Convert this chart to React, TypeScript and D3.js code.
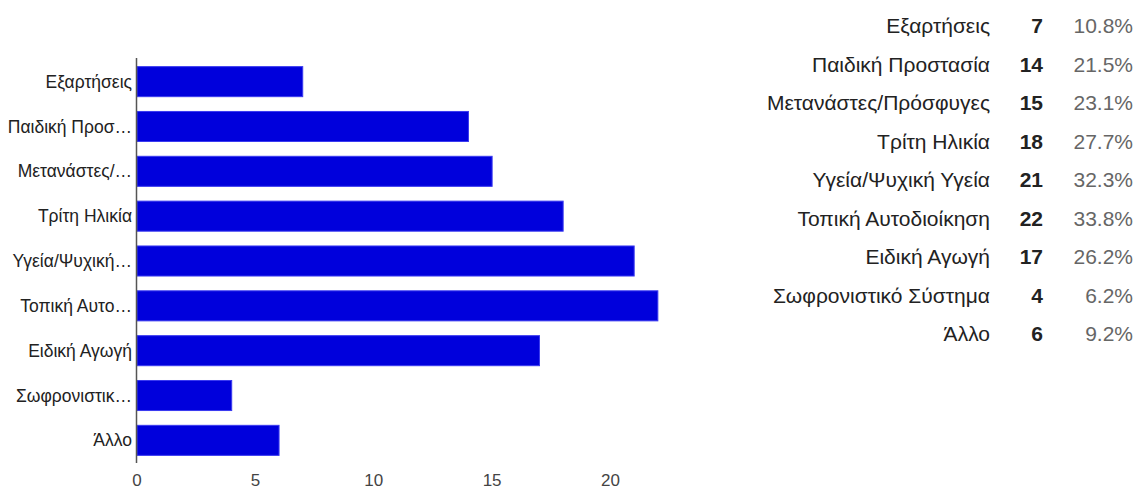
import React from "react";
import * as d3 from "d3";

const categories = ["Εξαρτήσεις", "Παιδική Προστασία", "Μετανάστες/Πρόσφυγες", "Τρίτη Ηλικία", "Υγεία/Ψυχική Υγεία", "Τοπική Αυτοδιοίκηση", "Ειδική Αγωγή", "Σωφρονιστικό Σύστημα", "Άλλο"];
const shortLabels = ["Εξαρτήσεις", "Παιδική Προσ…", "Μετανάστες/…", "Τρίτη Ηλικία", "Υγεία/Ψυχική…", "Τοπική Αυτο…", "Ειδική Αγωγή", "Σωφρονιστικ…", "Άλλο"];
const counts = [7, 14, 15, 18, 21, 22, 17, 4, 6];
const percents = ["10.8%", "21.5%", "23.1%", "27.7%", "32.3%", "33.8%", "26.2%", "6.2%", "9.2%"];
const xTicks = [0, 5, 10, 15, 20];

export default function App() {
  const W = 1135, H = 490;
  const x = d3.scaleLinear().domain([0, 20]).range([137, 610.5]);
  const y = d3.scaleBand<number>().domain(d3.range(categories.length)).range([59, 463]).paddingInner(0.33).paddingOuter(0.17);
  const font = "Arial, 'Liberation Sans', sans-serif";
  const rowY = d3.scaleLinear().domain([0, 8]).range([26, 334]);
  return (
    <svg width={W} height={H} style={{ position: "absolute", left: 0, top: 0, background: "#fff" }} fontFamily={font}>
      {counts.map((v, i) => (
        <rect key={i} x={x(0)} y={y(i)} width={x(v) - x(0)} height={y.bandwidth()} fill="#0000dc" stroke="#3a3af0" strokeWidth={1} />
      ))}
      <line x1={136.5} x2={136.5} y1={58} y2={463} stroke="#555" strokeWidth={1.5} />
      {shortLabels.map((s, i) => (
        <text key={i} x={132} y={y(i)! + y.bandwidth() / 2} dy="0.35em" textAnchor="end" fontSize={17.5} fill="#222">{s}</text>
      ))}
      {xTicks.map((t) => (
        <text key={t} x={x(t)} y={485.5} textAnchor="middle" fontSize={17} fill="#444">{t}</text>
      ))}
      {categories.map((c, i) => (
        <g key={i}>
          <text x={990} y={rowY(i)} dy="0.35em" textAnchor="end" fontSize={21} fill="#222">{c}</text>
          <text x={1043} y={rowY(i)} dy="0.35em" textAnchor="end" fontSize={21} fontWeight="bold" fill="#222">{counts[i]}</text>
          <text x={1133} y={rowY(i)} dy="0.35em" textAnchor="end" fontSize={21} fill="#666">{percents[i]}</text>
        </g>
      ))}
    </svg>
  );
}
